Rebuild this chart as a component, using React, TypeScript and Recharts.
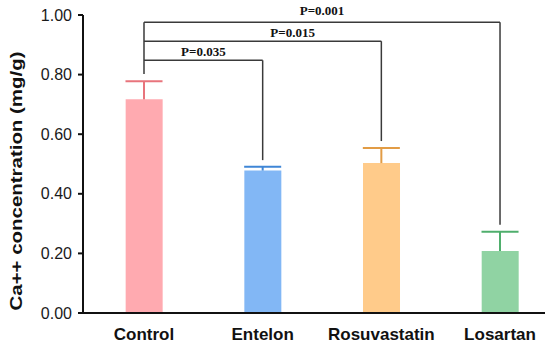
import React from 'react';
import { ComposedChart, Bar, Cell, XAxis, YAxis, ReferenceLine } from 'recharts';

const groups = ['Control', 'Entelon', 'Rosuvastatin', 'Losartan'];
const means = [0.717, 0.478, 0.503, 0.208];
const sem = [0.061, 0.013, 0.051, 0.065];
const yTicks = [0, 0.2, 0.4, 0.6, 0.8, 1.0];

// Control vs each treatment
const compTargets = [1, 2, 3];
const compLevels = [0.848, 0.912, 0.9755];
const compDrops = [0.513, 0.577, 0.296];
const compLabels = ['P=0.035', 'P=0.015', 'P=0.001'];
const controlStemFrom = 0.802;

const barColors = ['#FFAAB0', '#82B7F5', '#FFCB8A', '#90D3A3'];
const errColors = ['#E8747C', '#3F86D6', '#E29C45', '#4FAE6C'];
const labelDx = [0, 30, 0];
const labelGap = [4, 4, 7];
const capHalf = 0.156; // half a bar, in x units

const sans = 'Liberation Sans, Arial, Helvetica, sans-serif';
const serif = 'Liberation Serif, Times New Roman, serif';

const data = groups.map((g, i) => ({ idx: i, name: g, mean: means[i] }));

const YTitle = (props: any) => {
  const vb = props.viewBox;
  const x = vb.x + 22;
  const y = vb.y + vb.height / 2 + 17;
  return (
    <text
      x={x}
      y={y}
      transform={`rotate(-90, ${x}, ${y})`}
      textAnchor="middle"
      fontFamily={sans}
      fontWeight="bold"
      fontSize={16}
      fill="#111"
      textLength={259}
      lengthAdjust="spacingAndGlyphs"
    >
      Ca++ concentration (mg/g)
    </text>
  );
};

const pLabel = (i: number) => (props: any) => {
  const vb = props.viewBox;
  return (
    <text
      x={vb.x + vb.width / 2 + labelDx[i]}
      y={vb.y - labelGap[i]}
      textAnchor="middle"
      fontFamily={serif}
      fontWeight="bold"
      fontSize={13}
      fill="#111"
    >
      {compLabels[i]}
    </text>
  );
};

export default function App() {
  const line = { stroke: '#111', strokeWidth: 2 };
  const bracket = { stroke: '#3a3a3a', strokeWidth: 1.5 };

  return (
    <div style={{ position: 'absolute', left: 0, top: 0, background: '#fff' }}>
      <ComposedChart
        width={550}
        height={350}
        data={data}
        margin={{ top: 15, right: 5, bottom: 7, left: 0 }}
      >
        <XAxis
          type="number"
          dataKey="idx"
          domain={[-0.514, 3.379]}
          ticks={[0, 1, 2, 3]}
          interval={0}
          allowDataOverflow
          tickFormatter={(v: number) => groups[v]}
          axisLine={line}
          tickLine={false}
          tickSize={0}
          tickMargin={15}
          height={30}
          tick={{ fill: '#111', fontSize: 17, fontWeight: 'bold', fontFamily: sans }}
        />
        <YAxis
          domain={[0, 1]}
          ticks={yTicks}
          interval={0}
          tickFormatter={(v: number) => v.toFixed(2)}
          width={83}
          axisLine={line}
          tickLine={line}
          tickSize={5}
          tickMargin={6}
          tick={{ fill: '#1a1a1a', fontSize: 16, fontFamily: sans }}
          label={YTitle}
        />
        <Bar dataKey="mean" barSize={37} isAnimationActive={false}>
          {data.map((d, i) => (
            <Cell key={d.name} fill={barColors[i]} />
          ))}
        </Bar>

        {groups.map((g, i) => (
          <ReferenceLine
            key={`stem-${g}`}
            segment={[{ x: i, y: means[i] }, { x: i, y: means[i] + sem[i] }]}
            stroke={errColors[i]}
            strokeWidth={2}
          />
        ))}
        {groups.map((g, i) => (
          <ReferenceLine
            key={`cap-${g}`}
            segment={[
              { x: i - capHalf, y: means[i] + sem[i] },
              { x: i + capHalf, y: means[i] + sem[i] },
            ]}
            stroke={errColors[i]}
            strokeWidth={2}
          />
        ))}

        <ReferenceLine
          segment={[{ x: 0, y: controlStemFrom }, { x: 0, y: compLevels[2] }]}
          {...bracket}
        />
        {compTargets.map((t, i) => (
          <ReferenceLine
            key={`h-${t}`}
            segment={[{ x: 0, y: compLevels[i] }, { x: t, y: compLevels[i] }]}
            {...bracket}
            label={pLabel(i)}
          />
        ))}
        {compTargets.map((t, i) => (
          <ReferenceLine
            key={`v-${t}`}
            segment={[{ x: t, y: compLevels[i] }, { x: t, y: compDrops[i] }]}
            {...bracket}
          />
        ))}
      </ComposedChart>
    </div>
  );
}
